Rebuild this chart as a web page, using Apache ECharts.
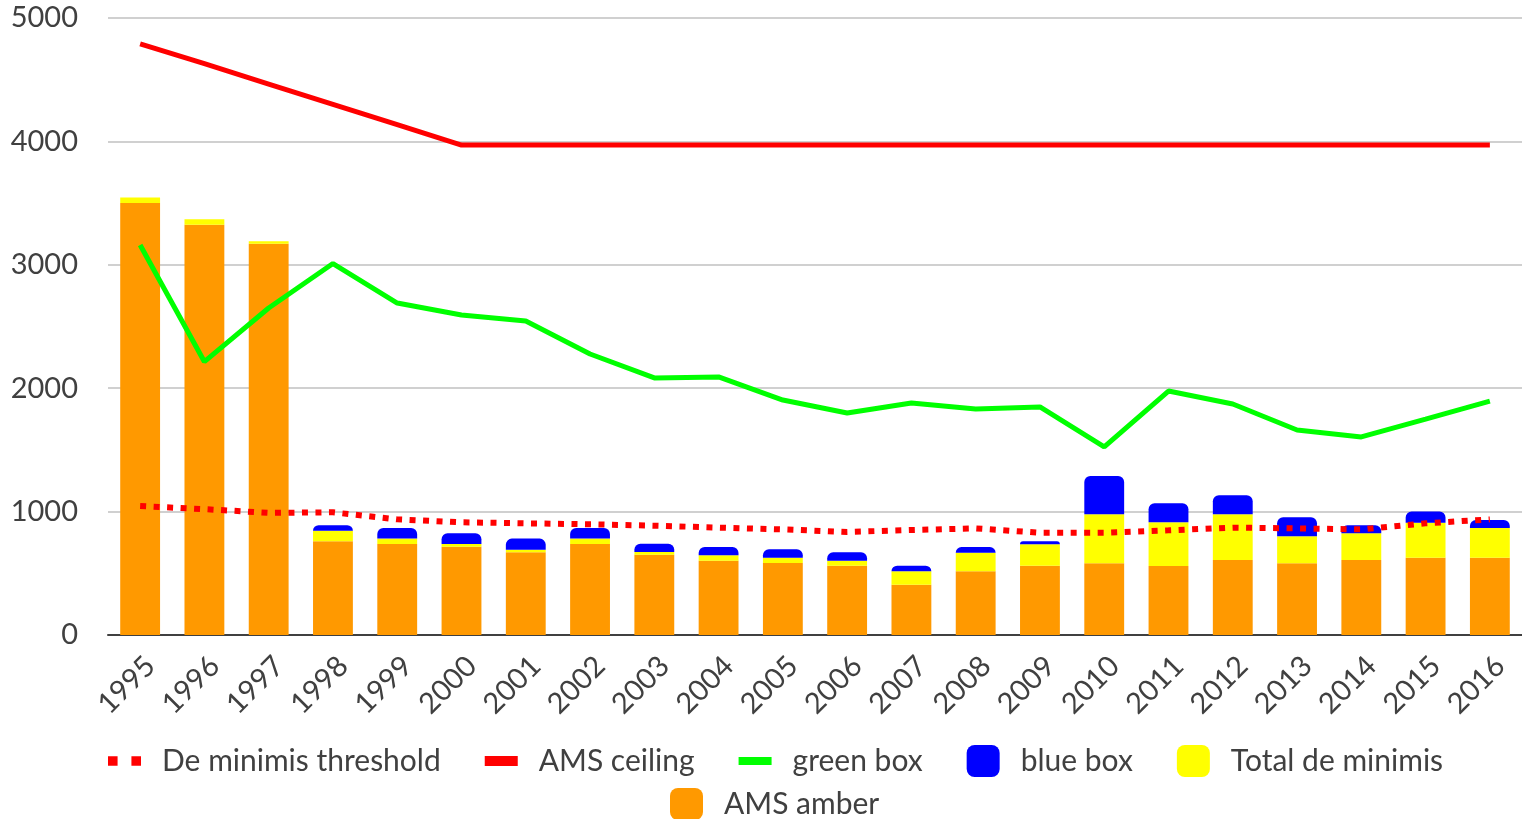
<!DOCTYPE html>
<html>
<head>
<meta charset="utf-8">
<script src="https://cdn.jsdelivr.net/npm/echarts@6/dist/echarts.min.js"></script>
<style>
  html, body { margin: 0; padding: 0; background: #fff; }
  #chart { width: 1522px; height: 819px; }
</style>
</head>
<body>
<div id="chart"></div>
<script>
// 年份
const years = ["1995", "1996", "1997", "1998", "1999", "2000", "2001", "2002", "2003", "2004", "2005",
  "2006", "2007", "2008", "2009", "2010", "2011", "2012", "2013", "2014", "2015", "2016"];
// 柱子：AMS amber / Total de minimis / blue box
const amsAmber = [3500, 3325, 3170, 760, 737, 715, 670, 737, 650, 602, 583,
  562, 408, 516, 562, 581, 559, 608, 581, 608, 627, 627];
const totalDeMinimis = [45, 45, 20, 85, 44, 22, 21, 44, 22, 44, 44,
  40, 108, 151, 173, 397, 354, 370, 219, 216, 283, 240];
const blueBox = [0, 0, 0, 45, 86, 87, 90, 86, 67, 67, 67,
  68, 46, 46, 24, 310, 154, 154, 154, 65, 90, 65];
// 折线
const greenBox = [3160, 2215, 2650, 3010, 2690, 2593, 2545, 2277, 2083, 2091, 1904,
  1799, 1880, 1831, 1848, 1524, 1977, 1872, 1661, 1605, 1750, 1896];
const amsCeiling = [4790, 4630, 4465, 4300, 4135, 3970, 3970, 3970, 3970, 3970, 3970,
  3970, 3970, 3970, 3970, 3970, 3970, 3970, 3970, 3970, 3970, 3970];
const deMinimisThreshold = [1045, 1020, 990, 994, 937, 913, 905, 897, 886, 870, 856,
  835, 851, 864, 829, 829, 848, 870, 864, 856, 905, 937];
// y轴刻度
const yTicks = [0, 1000, 2000, 3000, 4000, 5000];

const font = "Lato";
const textColor = "#404040";
const legendText = { fontFamily: font, fontSize: 30, color: textColor, padding: [0, 0, 0, 16] };

var myChart = echarts.init(document.getElementById("chart"));
var option = {
  // 去掉动画效果
  animation: false,
  grid: { left: 108, right: 0, top: 18, bottom: 184 },
  legend: [
    {
      top: 740,
      left: 103,
      itemWidth: 33,
      itemHeight: 32,
      itemGap: 44,
      symbolKeepAspect: true,
      textStyle: legendText,
      data: [
        { name: "De minimis threshold", icon: "path://M0,0h9v9h-9z M22,0h9v9h-9z" },
        { name: "AMS ceiling", icon: "path://M0,0h33v10h-33z" },
        { name: "green box", icon: "path://M0,0h33v8h-33z" },
        { name: "blue box", icon: "roundRect" },
        { name: "Total de minimis", icon: "roundRect" },
      ],
    },
    {
      top: 783,
      left: 665,
      itemWidth: 33,
      itemHeight: 32,
      textStyle: legendText,
      data: [{ name: "AMS amber", icon: "roundRect" }],
    },
  ],
  xAxis: {
    type: "category",
    data: years,
    axisTick: { show: false },
    axisLine: { lineStyle: { color: "#404040", width: 2 } },
    axisLabel: {
      rotate: 45, margin: 16, verticalAlign: "top", interval: 0,
      fontFamily: font, fontSize: 29, color: textColor,
    },
  },
  yAxis: {
    type: "value",
    min: yTicks[0],
    max: yTicks[yTicks.length - 1],
    interval: 1000,
    axisLabel: { margin: 30, fontFamily: font, fontSize: 29, color: textColor, formatter: (v) => String(v) },
    splitLine: { lineStyle: { color: "#d0d0d0", width: 2 } },
  },
  series: [
    {
      name: "AMS amber", type: "bar", stack: "total", barWidth: "62%",
      itemStyle: { color: "#ff9900" }, data: amsAmber,
    },
    {
      name: "Total de minimis", type: "bar", stack: "total",
      itemStyle: { color: "#ffff00" }, data: totalDeMinimis,
    },
    {
      name: "blue box", type: "bar", stack: "total",
      itemStyle: { color: "#0000ff", borderRadius: [6, 6, 0, 0] }, data: blueBox,
    },
    {
      name: "green box", type: "line", symbol: "none", z: 5,
      lineStyle: { color: "#00ff00", width: 5 }, itemStyle: { color: "#00ff00" }, data: greenBox,
    },
    {
      name: "AMS ceiling", type: "line", symbol: "none", z: 5,
      lineStyle: { color: "#ff0000", width: 5 }, itemStyle: { color: "#ff0000" }, data: amsCeiling,
    },
    {
      name: "De minimis threshold", type: "line", symbol: "none", z: 6,
      lineStyle: { color: "#ff0000", width: 6, type: [6, 7.5], cap: "butt" },
      itemStyle: { color: "#ff0000" }, data: deMinimisThreshold,
    },
  ],
};
myChart.setOption(option);
</script>
</body>
</html>
